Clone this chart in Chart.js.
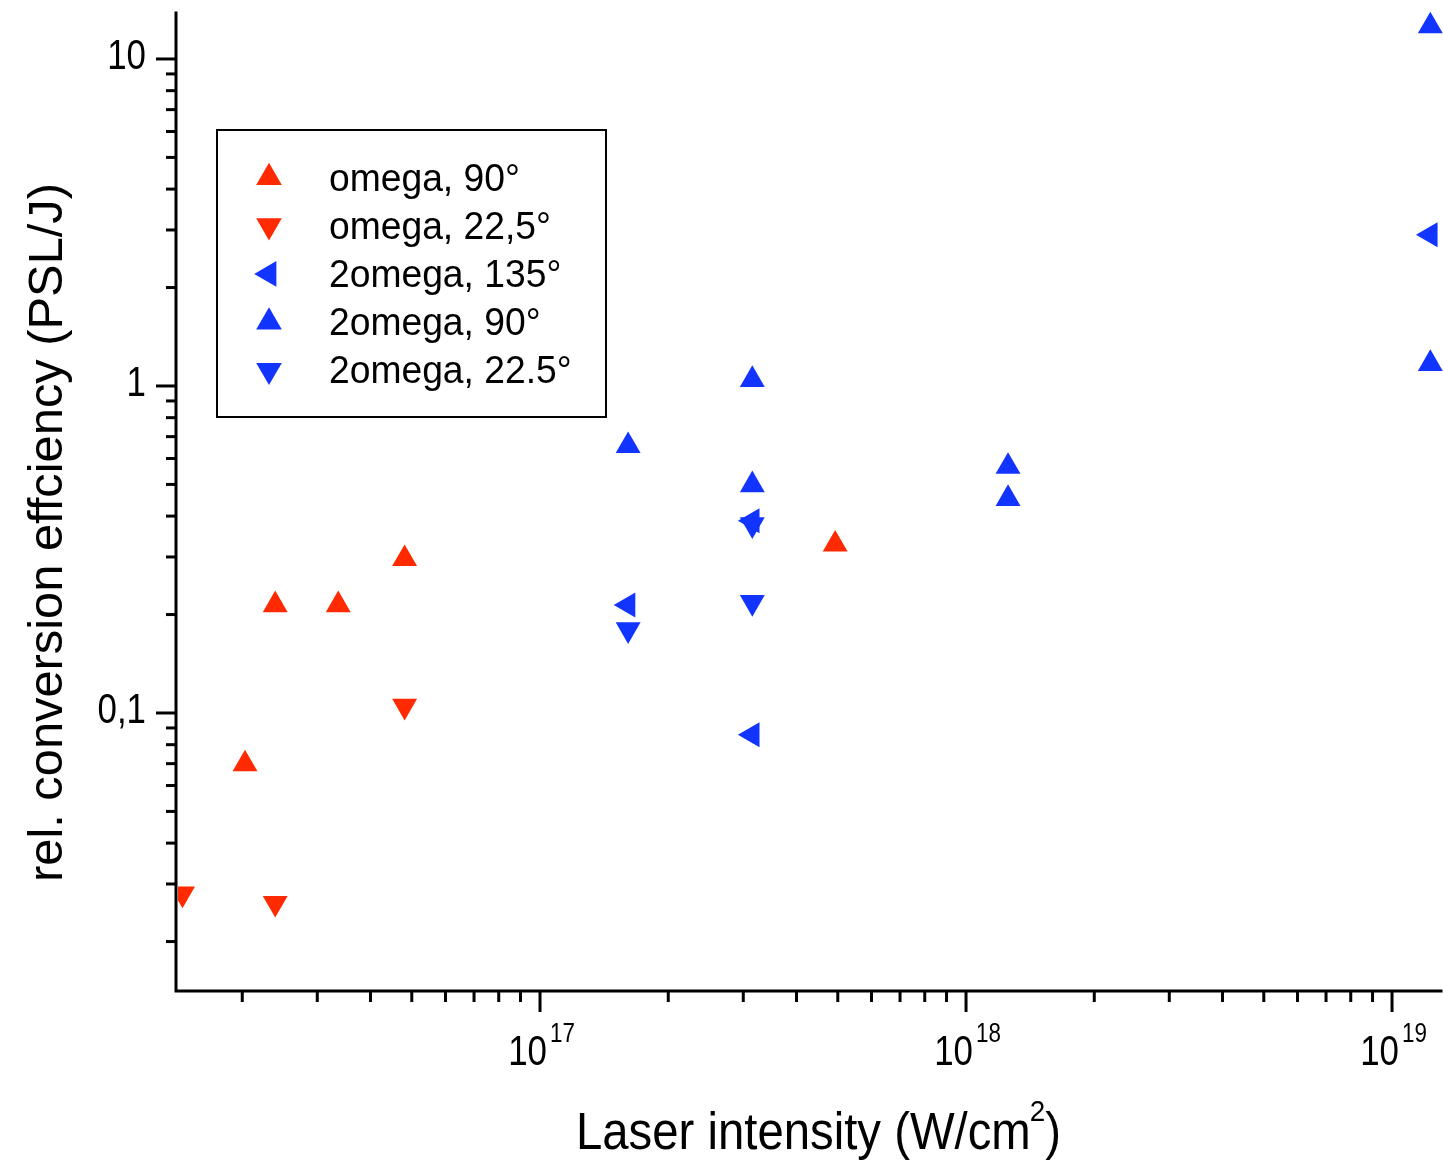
<!DOCTYPE html>
<html><head><meta charset="utf-8">
<script src="https://cdn.jsdelivr.net/npm/chart.js@4.4.1/dist/chart.umd.min.js"></script>
<style>html,body{margin:0;padding:0;background:#fff;overflow:hidden}canvas{display:block}</style>
</head><body>
<canvas id="c" width="1443" height="1163"></canvas>
<script>
// ---- data ----
const seriesNames = ['omega, 90°', 'omega, 22,5°', '2omega, 135°', '2omega, 90°', '2omega, 22.5°'];
const omega90X = [2.03e16, 2.39e16, 3.36e16, 4.81e16, 4.93e17];
const omega90Y = [0.0698, 0.214, 0.214, 0.296, 0.328];
const omega225X = [1.448e16, 2.39e16, 4.81e16];
const omega225Y = [0.0280, 0.0262, 0.105];
const twoOmega135X = [1.61e17, 3.15e17, 3.15e17, 1.23e19];
const twoOmega135Y = [0.214, 0.387, 0.0858, 2.90];
const twoOmega90X = [1.61e17, 3.15e17, 3.15e17, 1.255e18, 1.255e18, 1.23e19, 1.23e19];
const twoOmega90Y = [0.656, 1.045, 0.498, 0.567, 0.452, 12.6, 1.17];
const twoOmega225X = [1.61e17, 3.15e17, 3.15e17];
const twoOmega225Y = [0.180, 0.218, 0.377];

const xMajorTicks = [1e17, 1e18, 1e19];
const xTickBase = ['10', '10', '10'];
const xTickExp = ['17', '18', '19'];
const yMajorTicks = [0.1, 1, 10];
const yTickLabels = ['0,1', '1', '10'];
const xTitle = 'Laser intensity (W/cm';
const xTitleSup = '2';
const xTitleEnd = ')';
const yTitle = 'rel. conversion effciency (PSL/J)';

const xRange = [1.398e16, 1.303e19];
const yRange = [0.01412, 13.92];

const RED = '#ff2a00';
const BLUE = '#1234ff';
const FONT = '"Liberation Sans", Arial, sans-serif';

function pts(xs, ys) { return xs.map((x, i) => ({x: x, y: ys[i]})); }

function mkSet(label, xs, ys, color, rot) {
  return {
    label: label, data: pts(xs, ys),
    pointStyle: 'triangle', rotation: rot,
    pointRadius: 14.4, pointHoverRadius: 14.4,
    backgroundColor: color, borderColor: color, borderWidth: 0,
    clip: {left: -2, top: 20, right: 6, bottom: 6}
  };
}

function sText(ctx, str, x, y, size, sx, align) {
  ctx.save();
  ctx.font = size + 'px ' + FONT;
  const w = ctx.measureText(str).width * sx;
  let x0 = x;
  if (align === 'right') x0 = x - w; else if (align === 'center') x0 = x - w / 2;
  ctx.translate(x0, y);
  ctx.scale(sx, 1);
  ctx.textAlign = 'left';
  ctx.textBaseline = 'alphabetic';
  ctx.fillStyle = '#000';
  ctx.fillText(str, 0, 0);
  ctx.restore();
  return w;
}
function tw(ctx, str, size) { ctx.save(); ctx.font = size + 'px ' + FONT; const w = ctx.measureText(str).width; ctx.restore(); return w; }

function triangle(ctx, x, y, r, rotDeg, color) {
  ctx.save();
  ctx.fillStyle = color;
  ctx.beginPath();
  let rad = rotDeg * Math.PI / 180;
  for (let k = 0; k < 3; k++) {
    const px = x + Math.sin(rad) * r, py = y - Math.cos(rad) * r;
    if (k === 0) ctx.moveTo(px, py); else ctx.lineTo(px, py);
    rad += 2 * Math.PI / 3;
  }
  ctx.closePath();
  ctx.fill();
  ctx.restore();
}

const decor = {
  id: 'decor',
  afterDatasetsDraw(chart) {
    const ctx = chart.ctx;
    const xs = chart.scales.x, ys = chart.scales.y;
    const L = xs.left, R = xs.right, T = ys.top, B = ys.bottom;
    ctx.save();
    ctx.strokeStyle = '#000';
    ctx.lineWidth = 3;
    ctx.lineCap = 'square';
    // axis lines
    ctx.beginPath();
    ctx.moveTo(L, T + 1); ctx.lineTo(L, B); ctx.lineTo(R, B);
    ctx.stroke();
    ctx.lineCap = 'butt';
    // y ticks
    for (let e = -3; e <= 3; e++) {
      for (let m = 1; m <= 9; m++) {
        const v = m * Math.pow(10, e);
        if (v < yRange[0] || v > yRange[1]) continue;
        const p = ys.getPixelForValue(v);
        const len = m === 1 ? 20 : 10;
        ctx.beginPath(); ctx.moveTo(L, p); ctx.lineTo(L - len, p); ctx.stroke();
      }
    }
    // x ticks
    for (let e = 15; e <= 20; e++) {
      for (let m = 1; m <= 9; m++) {
        const v = m * Math.pow(10, e);
        if (v < xRange[0] || v > xRange[1]) continue;
        const p = xs.getPixelForValue(v);
        const len = m === 1 ? 21 : 11;
        ctx.beginPath(); ctx.moveTo(p, B); ctx.lineTo(p, B + len); ctx.stroke();
      }
    }
    // y tick labels
    yMajorTicks.forEach((v, i) => {
      const p = ys.getPixelForValue(v);
      sText(ctx, yTickLabels[i], 146, p + 10, 42, 0.83, 'right');
    });
    // x tick labels
    xMajorTicks.forEach((v, i) => {
      const p = xs.getPixelForValue(v);
      const wb = tw(ctx, xTickBase[i], 42) * 0.83;
      const we = tw(ctx, xTickExp[i], 27) * 0.83;
      const total = wb + 3 + we;
      const x0 = p + 1.5 - total / 2;
      sText(ctx, xTickBase[i], x0, 1065, 42, 0.83, 'left');
      sText(ctx, xTickExp[i], x0 + wb + 3, 1042, 27, 0.83, 'left');
    });
    // x title
    {
      const w1 = tw(ctx, xTitle, 51), w2 = tw(ctx, xTitleSup, 30), w3 = tw(ctx, xTitleEnd, 51);
      const target = 486;
      const sx = target / (w1 + w2 + w3);
      let x = 576;
      x += sText(ctx, xTitle, x, 1149, 51, sx, 'left');
      x += sText(ctx, xTitleSup, x - 1, 1121, 30, sx, 'left') - 1;
      sText(ctx, xTitleEnd, x, 1149, 51, sx, 'left');
    }
    // y title
    {
      const w = tw(ctx, yTitle, 49);
      const sx = 699 / w;
      ctx.save();
      ctx.translate(62, 532.5);
      ctx.rotate(-Math.PI / 2);
      sText(ctx, yTitle, 0, 0, 49, sx, 'center');
      ctx.restore();
    }
    // legend
    ctx.lineWidth = 2;
    ctx.fillStyle = '#fff';
    ctx.fillRect(217, 130, 389, 287);
    ctx.strokeRect(217, 130, 389, 287);
    chart.data.datasets.forEach((ds, i) => {
      const base = 190.5 + 48.2 * i;
      triangle(ctx, 269, base - 13, 14.8, ds.rotation, ds.backgroundColor);
      sText(ctx, ds.label, 329, base, 38, 0.98, 'left');
    });
    ctx.restore();
  }
};

new Chart(document.getElementById('c'), {
  type: 'scatter',
  data: {
    datasets: [
      mkSet(seriesNames[0], omega90X, omega90Y, RED, 0),
      mkSet(seriesNames[1], omega225X, omega225Y, RED, 180),
      mkSet(seriesNames[2], twoOmega135X, twoOmega135Y, BLUE, 270),
      mkSet(seriesNames[3], twoOmega90X, twoOmega90Y, BLUE, 0),
      mkSet(seriesNames[4], twoOmega225X, twoOmega225Y, BLUE, 180)
    ]
  },
  options: {
    responsive: false,
    animation: false,
    devicePixelRatio: 1,
    layout: {autoPadding: false, padding: {left: 0, top: 12, right: 2, bottom: 0}},
    plugins: {legend: {display: false}, title: {display: false}, tooltip: {enabled: false}},
    scales: {
      x: {
        type: 'logarithmic', min: xRange[0], max: xRange[1],
        grid: {display: false}, border: {display: false}, ticks: {display: false},
        afterFit(s) { s.height = 172; }
      },
      y: {
        type: 'logarithmic', min: yRange[0], max: yRange[1],
        grid: {display: false}, border: {display: false}, ticks: {display: false},
        afterFit(s) { s.width = 176; }
      }
    }
  },
  plugins: [decor]
});
</script>
</body></html>
